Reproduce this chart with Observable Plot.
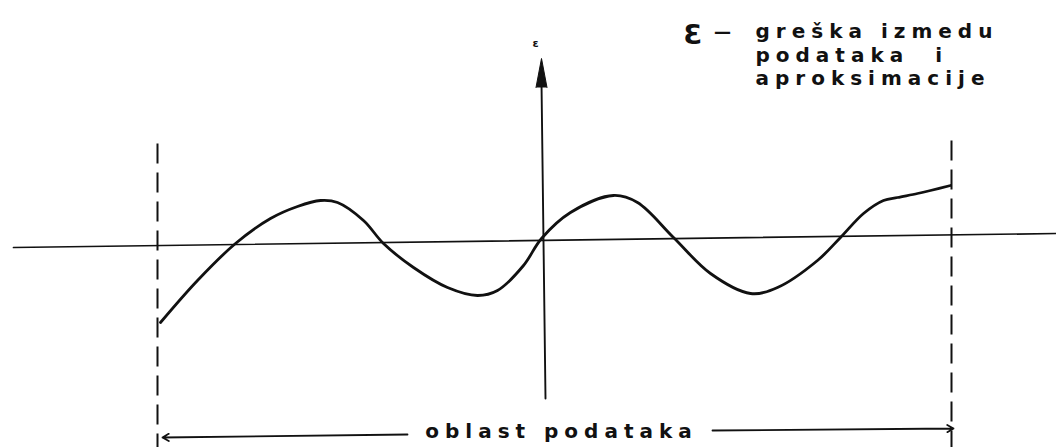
<!DOCTYPE html>
<html>
<head>
<meta charset="utf-8">
<script src="https://cdn.jsdelivr.net/npm/d3@7"></script>
<script src="https://cdn.jsdelivr.net/npm/@observablehq/plot@0.6"></script>
<style>
  html, body { margin: 0; padding: 0; background: #ffffff; }
  #chart svg { display: block; background: #ffffff; }
  #chart svg text { font-family: "DejaVu Sans", sans-serif; font-weight: bold; letter-spacing: 6px; }
</style>
</head>
<body>
<div id="chart"></div>
<script>
// Error curve ε(x) between the data and its approximation, over the data range.
// Units: horizontal and vertical positions measured from the origin of the ε axis.
const curveX = [-38.1, -34.4, -30.6, -27.1, -24.4, -22.1, -20.4, -17.8, -15.8, -12.8, -9.4, -6.4, -4.4, -1.8, 0,
                2.9, 7.2, 9.6, 13.2, 16.9, 20.9, 23.6, 27.6, 29.9, 32.2, 34.2, 35.6, 37.6, 38.9, 40.9];
const curveY = [-8.4, -4.2, -0.5, 2.0, 3.2, 3.8, 3.6, 1.8, -0.5, -2.9, -4.9, -5.7, -5.2, -2.7, 0,
                2.6, 4.3, 3.6, 0.1, -3.5, -5.5, -4.9, -2.2, 0.1, 2.5, 3.8, 4.1, 4.5, 4.8, 5.3];

// Abscissa (zero error line) and ε axis
const abscissaX = [-52.8, 51.5];
const abscissaY = [-0.9, 0.5];
const ordinateX = [0.4, 0];
const ordinateY = [-16.0, 15.6];
const ordinateTip = [0, 18.0];

// Limits of the data range (dashed) and the bracket below
const limitX = [-38.4, 41.0];
const limitTop = [9.5, 9.8];
const limitBottom = [-21, -21];
const bracketFromX = [-13.4, 17.1];
const bracketToX = [-37.9, 41.2];
const bracketFromY = [-19.6, -19.2];
const bracketToY = [-19.9, -19.0];

// Texts
const rangeLabel = "oblast podataka";
const rangeLabelPos = [2.0, -19.9];
const axisLabel = "ε";
const axisLabelPos = [-0.3, 19.2];
const legendSymbol = "Ɛ";
const legendSymbolPos = [14.2, 19.5];
const legendDashPos = [18.4, 20.1];
const legendLines = ["greška izmedu", "podataka  i", "aproksimacije"];
const legendX = 21.4;
const legendY = [20.1, 17.7, 15.4];

const ink = "#111111";

const curve = curveX.map((x, i) => ({x, y: curveY[i]}));
const abscissa = abscissaX.map((x, i) => ({x, y: abscissaY[i]}));
const ordinate = ordinateX.map((x, i) => ({x, y: ordinateY[i]}));
const limits = limitX.map((x, i) => ({x, y1: limitTop[i], y2: limitBottom[i]}));
const bracket = bracketFromX.map((x1, i) => ({x1, y1: bracketFromY[i], x2: bracketToX[i], y2: bracketToY[i]}));
const legend = legendLines.map((t, i) => ({t, y: legendY[i]}));

const chart = Plot.plot({
  width: 1056,
  height: 447,
  margin: 0,
  x: {domain: [-54.1, 51.5], axis: null},
  y: {domain: [-20.9, 23.8], axis: null},
  marks: [
    Plot.line(abscissa, {x: "x", y: "y", stroke: ink, strokeWidth: 1.7}),
    Plot.line(ordinate, {x: "x", y: "y", stroke: ink, strokeWidth: 1.9}),
    Plot.vector([{x: ordinateTip[0], y: ordinateTip[1]}], {
      x: "x", y: "y", length: 29, r: 5.5, shape: "spike", anchor: "end",
      fill: ink, stroke: ink, strokeWidth: 1
    }),
    Plot.link(limits, {x1: "x", x2: "x", y1: "y1", y2: "y2", stroke: ink, strokeWidth: 2, strokeDasharray: "20,9"}),
    Plot.arrow(bracket, {x1: "x1", y1: "y1", x2: "x2", y2: "y2", stroke: ink, strokeWidth: 1.8, headLength: 6, bend: 0}),
    Plot.line(curve, {x: "x", y: "y", stroke: ink, strokeWidth: 2.8, curve: "catmull-rom"}),
    Plot.text([rangeLabel], {x: rangeLabelPos[0], y: rangeLabelPos[1], text: d => d, fontSize: 20, lineAnchor: "bottom", textAnchor: "middle", fill: ink}),
    Plot.text([axisLabel], {x: axisLabelPos[0], y: axisLabelPos[1], text: d => d, fontSize: 11, lineAnchor: "bottom", textAnchor: "middle", fill: ink}),
    Plot.text([legendSymbol], {x: legendSymbolPos[0], y: legendSymbolPos[1], text: d => d, fontSize: 27, lineAnchor: "bottom", textAnchor: "start", fill: ink}),
    Plot.text(["—"], {x: legendDashPos[0], y: legendDashPos[1], text: d => d, fontSize: 17, lineAnchor: "bottom", textAnchor: "middle", fill: ink}),
    Plot.text(legend, {x: legendX, y: "y", text: "t", fontSize: 20, lineAnchor: "bottom", textAnchor: "start", fill: ink})
  ]
});

document.getElementById("chart").appendChild(chart);
</script>
</body>
</html>
